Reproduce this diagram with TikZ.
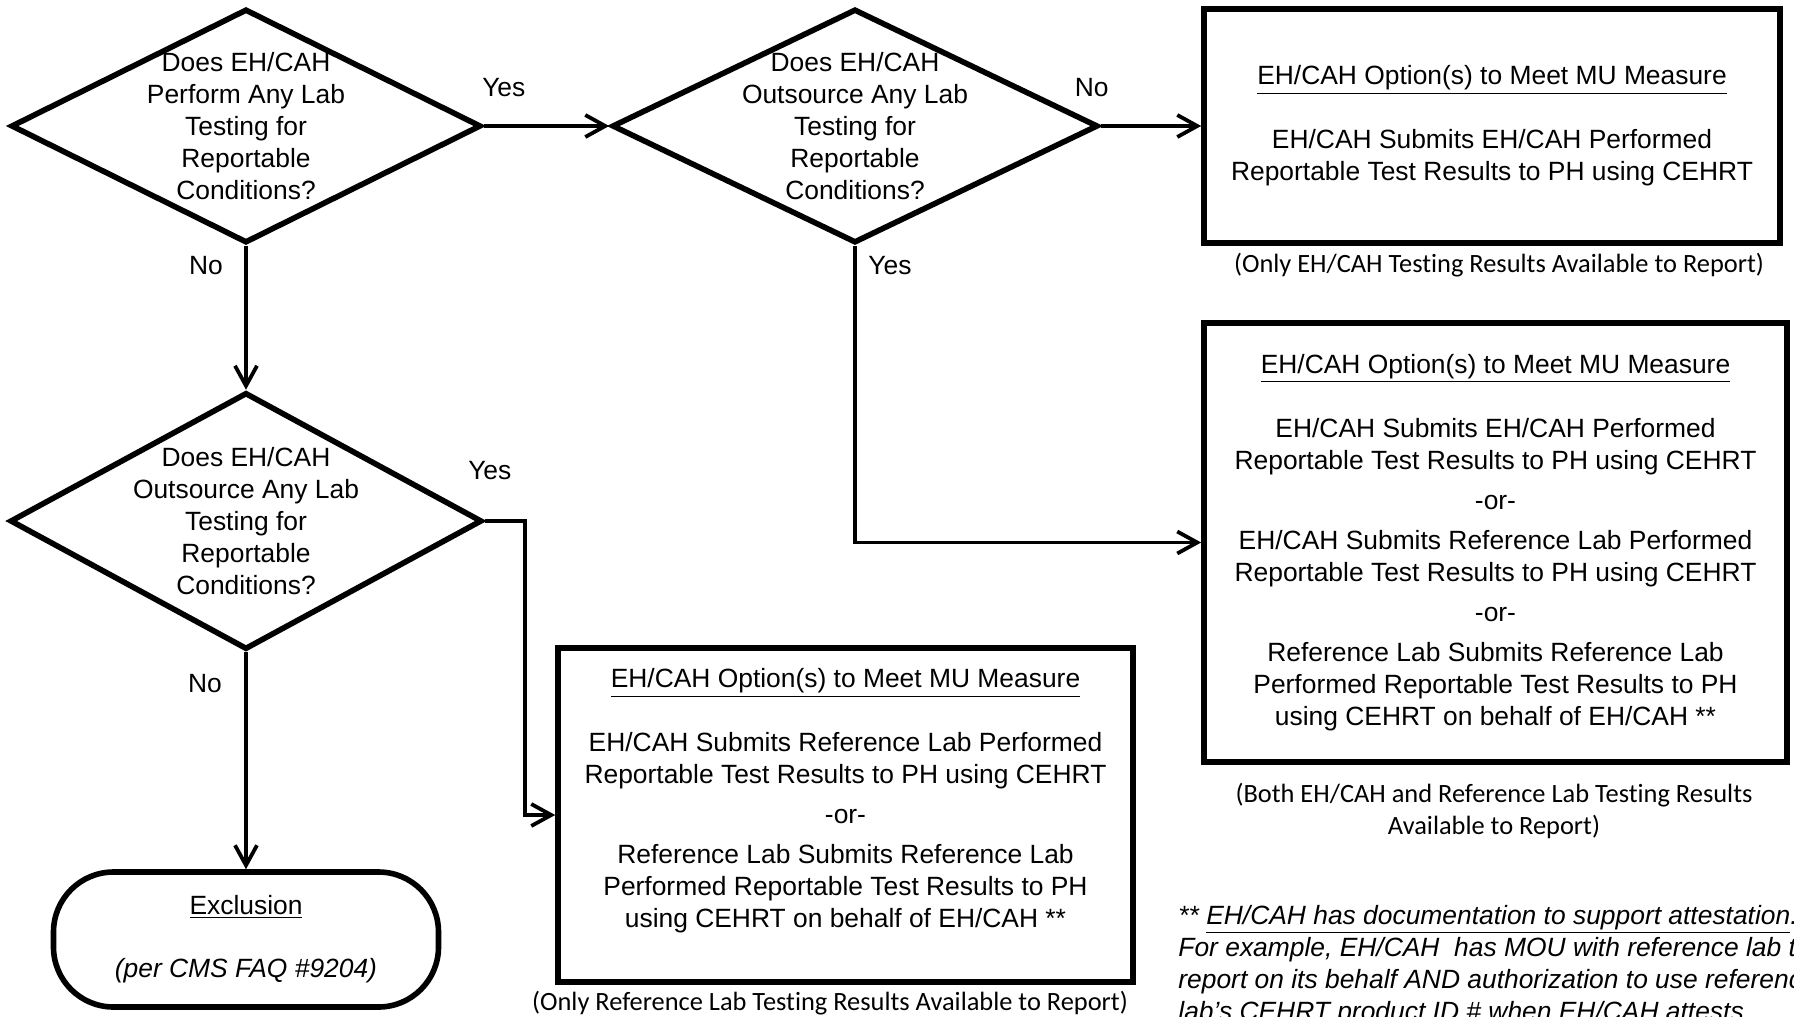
\documentclass[tikz,border=0pt]{standalone}
\usepackage{fontspec}
\setmainfont{Liberation Sans}
\newfontfamily\calibrifont[Ligatures=NoCommon]{Carlito}
\usetikzlibrary{shapes.geometric, arrows.meta}

\begin{document}
\begin{tikzpicture}[x=0.5pt, y=-0.5pt,
		every node/.style={font=\fontsize{13.2}{16}\selectfont},
		question/.style={diamond, draw, line width=2.8pt, inner sep=0pt},
		qtext/.style={align=center},
		optionbox/.style={rectangle, draw, line width=2.8pt, align=center},
		endbox/.style={rectangle, draw, line width=2.8pt, rounded corners=30pt, align=center},
		caption/.style={font=\calibrifont\fontsize{13.2}{16}\selectfont, align=center},
		flow/.style={line width=1.9pt, -{Straight Barb[length=10pt, width=11pt]}}]
	\useasboundingbox (0,0) rectangle (1794,1017);

	% questions
	\node[question, minimum width=235pt, minimum height=117pt] (q1) at (246,126) {};
	\node[qtext] (q1txt) at (q1) {Does EH/CAH\\Perform Any Lab\\Testing for\\Reportable\\Conditions?};
	\node[question, minimum width=243pt, minimum height=117pt] (q2) at (855,126) {};
	\node[qtext] (q2txt) at (q2) {Does EH/CAH\\Outsource Any Lab\\Testing for\\Reportable\\Conditions?};
	\node[question, minimum width=236pt, minimum height=128.5pt] (q3) at (246,521) {};
	\node[qtext] (q3txt) at (q3) {Does EH/CAH\\Outsource Any Lab\\Testing for\\Reportable\\Conditions?};

	% options
	\node[optionbox, minimum width=288pt, minimum height=117pt] (opt1) at (1492,126)
		{\underline{EH/CAH Option(s) to Meet MU Measure}\\[16pt]
		EH/CAH Submits EH/CAH Performed\\Reportable Test Results to PH using CEHRT};
	\node[optionbox, minimum width=291.5pt, minimum height=219.5pt] (opt2) at (1495.5,542.5)
		{\underline{EH/CAH Option(s) to Meet MU Measure}\\[16pt]
		EH/CAH Submits EH/CAH Performed\\Reportable Test Results to PH using CEHRT\\[4pt]
		-or-\\[4pt]
		EH/CAH Submits Reference Lab Performed\\Reportable Test Results to PH using CEHRT\\[4pt]
		-or-\\[4pt]
		Reference Lab Submits Reference Lab\\Performed Reportable Test Results to PH\\using CEHRT on behalf of EH/CAH **};
	\node[optionbox, minimum width=287.5pt, minimum height=167pt] (opt3) at (845.5,815) {};
	\node[align=center] (opt3txt) at (845.5,801)
		{\underline{EH/CAH Option(s) to Meet MU Measure}\\[16pt]
		EH/CAH Submits Reference Lab Performed\\Reportable Test Results to PH using CEHRT\\[4pt]
		-or-\\[4pt]
		Reference Lab Submits Reference Lab\\Performed Reportable Test Results to PH\\using CEHRT on behalf of EH/CAH **};
	\node[endbox, minimum width=192.5pt, minimum height=67.5pt] (excl) at (246,939.5)
		{\underline{Exclusion}\\[15.5pt]\textit{(per CMS FAQ \#9204)}};

	% captions
	\node[caption] (cap1) at (1499,265) {(Only EH/CAH Testing Results Available to Report)};
	\node[caption] (cap2) at (1494,811) {(Both EH/CAH and Reference Lab Testing Results\\Available to Report)};
	\node[caption] (cap3) at (830,1003) {(Only Reference Lab Testing Results Available to Report)};
	\node[align=left, anchor=north west, inner sep=0pt, font=\itshape\fontsize{13.2}{16}\selectfont] (note) at (1178,905)
		{** \underline{EH/CAH has documentation to support attestation}.\\
		For example, EH/CAH~ has MOU with reference lab to\\
		report on its behalf AND authorization to use reference\\
		lab's CEHRT product ID \# when EH/CAH attests.};

	% answers
	\node (yes1) at ([shift={(20,-38)}]q1.east) {Yes};
	\node (no1) at ([shift={(-40,20)}]q1.south) {No};
	\node (no2) at ([shift={(-9,-38)}]q2.east) {No};
	\node (yes2) at ([shift={(35,20)}]q2.south) {Yes};
	\node (yes3) at ([shift={(5,-50)}]q3.east) {Yes};
	\node (no3) at ([shift={(-41,31)}]q3.south) {No};

	% connectors
	\draw[flow] (q1.east) -- (q2.west);
	\draw[flow] (q2.east) -- (opt1.west);
	\draw[flow] (q2.south) |- (opt2.west);
	\draw[flow] (q1.south) -- (q3.north);
	\draw[flow] (q3.east) -- ++(40,0) |- (opt3.west);
	\draw[flow] (q3.south) -- (excl.north);
\end{tikzpicture}
\end{document}
